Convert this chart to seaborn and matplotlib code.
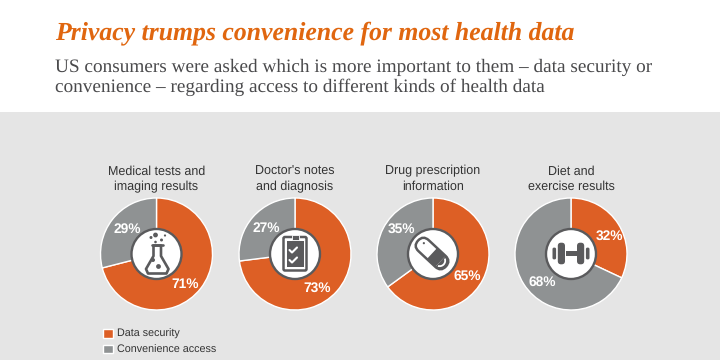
import matplotlib
matplotlib.use('Agg')
import matplotlib.pyplot as plt
import seaborn as sns
from matplotlib.patches import Circle, FancyBboxPatch, Polygon, Rectangle, Wedge, Arc
from matplotlib.transforms import Affine2D

# Datos
categories = ['Medical tests and\nimaging results', "Doctor's notes\nand diagnosis",
              'Drug prescription\ninformation', 'Diet and\nexercise results']
data_security = [71, 73, 65, 32]
convenience = [29, 27, 35, 68]
series_names = ['Data security', 'Convenience access']

title = 'Privacy trumps convenience for most health data'
subtitle = ('US consumers were asked which is more important to them \u2013 data security or\n'
            'convenience \u2013 regarding access to different kinds of health data')

# Colores y layout (en pixeles de la imagen)
colors = ['#DD5F25', '#8F9293']
DARK = '#5A5A5C'
centers = [(156.5, 254), (295, 254), (433, 254), (571, 254)]
RADIUS = 56
pos_security = [(185, 284), (317, 288), (467, 276), (609, 236)]
pos_convenience = [(127, 229), (266, 228), (401, 229), (542, 282)]

sns.set_theme(style='white', palette=colors)
plt.rcParams['font.family'] = ['Liberation Sans', 'DejaVu Sans']
plt.rcParams['text.hinting'] = 'no_hinting'

fig = plt.figure(figsize=(7.2, 3.6), dpi=100, facecolor='white')

# Fondo gris
bg = fig.add_axes([0, 0, 1, 1], zorder=0)
bg.set_xlim(0, 720)
bg.set_ylim(360, 0)
bg.axis('off')
bg.add_patch(Rectangle((0, 111.5), 720, 249, color='#E5E5E5', lw=0))

# Donas
wedges = None
for (cx, cy), a, b in zip(centers, data_security, convenience):
    ax = fig.add_axes([(cx - RADIUS) / 720, 1 - (cy + RADIUS) / 360,
                       2 * RADIUS / 720, 2 * RADIUS / 360], zorder=1)
    wedges, _ = ax.pie([a, b], colors=colors, startangle=90, counterclock=False, radius=1)
    ax.set_xlim(-1, 1)
    ax.set_ylim(-1, 1)

# Capa superior para textos e iconos
fg = fig.add_axes([0, 0, 1, 1], zorder=2)
fg.set_xlim(0, 720)
fg.set_ylim(360, 0)
fg.axis('off')
fg.patch.set_alpha(0)

fg.text(55, 33.5, title, color='#E0660F', fontsize=18.5, fontweight='bold', fontstyle='italic',
        family=['Liberation Serif'], va='center', ha='left')
fg.text(55, 77.5, subtitle, color='#4A4A4C', fontsize=13.85, family=['Liberation Serif'],
        va='center', ha='left', linespacing=1.16)

for (cx, cy), cat in zip(centers, categories):
    fg.text(cx, 179, cat, ha='center', va='center', fontsize=9, color='#333333', linespacing=1.35)

for (x, y), v in zip(pos_security, data_security):
    fg.text(x, y, f'{v}%', color='white', fontsize=9.9, fontweight='bold', ha='center', va='center')
for (x, y), v in zip(pos_convenience, convenience):
    fg.text(x, y, f'{v}%', color='white', fontsize=9.9, fontweight='bold', ha='center', va='center')

# Circulos centrales
for cx, cy in centers:
    fg.add_patch(Circle((cx, cy), 25, facecolor='white', edgecolor=DARK, lw=1.7))

# Icono matraz
cx, cy = centers[0]
fg.add_patch(Polygon([(cx - 3, cy - 8.5), (cx - 3, cy + 2), (cx - 10.5, cy + 15), (cx - 8.5, cy + 19.5),
                      (cx + 10, cy + 19.5), (cx + 12, cy + 15), (cx + 4.5, cy + 2), (cx + 4.5, cy - 8.5)],
                     closed=True, facecolor='white', edgecolor=DARK, lw=1.9, joinstyle='round'))
fg.plot([cx - 5, cx + 6.5], [cy - 9, cy - 9], color=DARK, lw=1.9)
for dx, dy, r in [(-1, -19, 2.4), (-5.5, -16.5, 1.5), (5, -14, 1.5), (8.5, -18.5, 1.1), (-1, -12, 1.3),
                  (2, 12.5, 2.4), (-3.5, 6, 2)]:
    fg.add_patch(Circle((cx + dx, cy + dy), r, color=DARK, lw=0))

# Icono portapapeles
cx, cy = centers[1]
fg.add_patch(FancyBboxPatch((cx - 11.5, cy - 17), 23, 33.5, boxstyle='round,pad=0,rounding_size=1.5',
                            facecolor='white', edgecolor=DARK, lw=1.8))
fg.add_patch(Rectangle((cx - 8.5, cy - 13), 17, 26, color=DARK, lw=0))
fg.add_patch(Rectangle((cx - 3.5, cy - 19), 7, 4.5, facecolor=DARK, edgecolor='white', lw=0.6))
for dy in [-3, 7]:
    fg.plot([cx - 5.5, cx - 3, cx + 2], [cy + dy - 1, cy + dy + 1.5, cy + dy - 3.5], color='white', lw=1.5)

# Icono capsula
cx, cy = centers[2]
rot = Affine2D().rotate_deg(43).translate(cx - 1, cy - 0.5) + fg.transData
fg.add_patch(FancyBboxPatch((-19, -7.5), 38, 15, boxstyle='round,pad=0,rounding_size=7.5',
                            facecolor='white', edgecolor=DARK, lw=1.8, transform=rot))
fg.add_patch(Rectangle((0, -7.5), 11.5, 15, color=DARK, lw=0, transform=rot))
fg.add_patch(Wedge((11.5, 0), 7.5, -90, 90, color=DARK, lw=0, transform=rot))
fg.add_patch(Arc((10.5, 0), 11, 11, angle=0, theta1=-65, theta2=65, color='white', lw=1.3, transform=rot))
fg.add_patch(Circle((-13, -2), 1.1, color=DARK, lw=0, transform=rot))

# Icono mancuerna
cx, cy = centers[3]
fg.add_patch(Rectangle((cx - 5.5, cy - 3), 11, 5.4, color=DARK, lw=0))
for s in [-1, 1]:
    fg.add_patch(FancyBboxPatch((cx + s * 9.6 - 3.6, cy - 11.3), 7.2, 21.6, boxstyle='round,pad=0,rounding_size=3.2',
                                color=DARK, lw=0))
    fg.add_patch(FancyBboxPatch((cx + s * 16.7 - 1.8, cy - 6.4), 3.6, 11.8, boxstyle='round,pad=0,rounding_size=1.5',
                                color=DARK, lw=0))

# Leyenda
fg.legend(wedges, series_names, loc='upper left', bbox_to_anchor=(100, 325.5), bbox_transform=fg.transData,
          frameon=False, fontsize=7.75, handlelength=0.88, handleheight=0.88, handletextpad=0.42,
          labelspacing=0.5, borderpad=0.3, borderaxespad=0, labelcolor='#333333')

fig.savefig('out.png', dpi=100, facecolor='white')
